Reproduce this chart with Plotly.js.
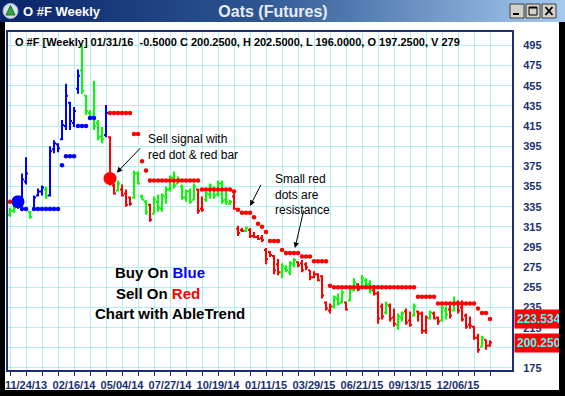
<!DOCTYPE html>
<html><head><meta charset="utf-8">
<script src="https://cdn.plot.ly/plotly-3.0.1.min.js"></script>
<style>
html,body{margin:0;padding:0;background:#fff;width:565px;height:396px;overflow:hidden;}
#bar{position:absolute;left:0;top:0;width:565px;height:22px;background:linear-gradient(to right,#0a246a 0%,#2c5590 45%,#a6caf0 100%);z-index:0}
#chart{position:absolute;left:0;top:0;width:565px;height:396px;z-index:1}
#fl{position:absolute;left:0;top:22px;width:5px;height:374px;background:#000;z-index:2}
#fr{position:absolute;left:559px;top:22px;width:6px;height:374px;background:#000;z-index:2}
#fb{position:absolute;left:0;top:390px;width:565px;height:6px;background:#000;z-index:2}
</style></head><body>
<div id="bar"></div><div id="chart"></div><div id="fl"></div><div id="fr"></div><div id="fb"></div>
<script>
// ---------- data (weekly bars, oldest first; first bar is 4 bars before 11/24/13) ----------
const START_INDEX = -4;
const opens = [
327,331,335,336,360,330,333,346,350,352,
346,392,397,402,415,438,418,452,470,445,
428,425,418,405,406,404,356,351,352,348,
344,344,368,345,340,337,328,340,333,345,
352,364,358,355,344,350,342,352,333,342,
347,353,347,358,342,338,345,313,312,311,
312,306,305,304,292,290,286,278,270,274,
270,278,280,279,278,272,265,268,266,240,
232,236,244,240,240,242,252,258,255,262,
258,252,249,236,230,237,225,218,225,231,
222,227,231,229,212,224,229,225,222,232,
233,232,240,235,227,218,216,205,196,203,
197.25];
const highs = [
334,336,345,368,384,331,346,353,356,355,
395,401,398,421,457,439,434,471,495,446,
431,460,421,414,436,405,358,361,357,352,
345,371,370,347,342,338,345,347,348,355,
366,370,365,357,352,353,358,353,345,350,
358,355,361,361,350,342,348,316,314,315,
314,310,307,307,294,291,287,283,279,277,
281,284,281,282,280,272,271,269,267,241,
239,247,249,252,241,256,264,259,267,264,
262,257,251,239,241,239,234,229,231,234,
231,239,232,231,227,232,231,226,237,236,
237,246,242,242,229,226,217,209,207,203,
202.5];
const lows = [
325,329,333,332,357,323,332,345,346,343,
345,388,389,401,411,411,414,447,447,426,
421,411,401,398,404,356,347,350,345,335,
336,343,357,342,327,320,328,330,330,338,
350,353,358,342,340,338,342,328,330,340,
343,343,345,338,337,337,332,306,310,310,
304,304,302,300,278,285,268,267,264,270,
267,275,275,270,272,262,264,261,244,232,
229,234,237,239,232,241,251,251,254,256,
249,247,219,223,228,221,216,213,221,218,
216,226,221,209,209,223,223,218,221,223,
224,231,229,221,214,214,203,190,196,193,
196];
const closes = [
331,334,343,362,368,325,344,350,354,346,
390,398,393,416,445,420,430,465,450,430,
424,415,404,402,428,360,348,358,346,337,
338,368,358,342,330,322,342,334,346,352,
364,356,362,344,350,340,355,331,332,348,
356,346,358,341,340,340,333,309,311,314,
306,305,303,302,283,287,272,270,276,272,
279,282,277,272,275,265,268,262,247,234,
236,245,239,250,233,253,260,253,264,258,
252,249,224,226,238,224,219,226,229,220,
218,236,229,212,225,230,224,221,235,228,
227,240,232,223,216,217,205,193,205,197,
200.25];
// trend colour of each bar: B = blue (buy), G = green (neutral), R = red (sell)
const barColors = [
'G','G','B','B','B','G','B','B','B','G',
'B','B','B','B','B','B','B','B','G','G',
'G','G','G','G','B','R','R','G','R','R',
'R','G','G','G','G','R','G','G','G','G',
'G','G','G','G','G','G','G','R','R','G',
'G','G','G','G','G','G','R','R','R','G',
'R','R','R','R','R','R','R','R','G','G',
'G','G','R','R','R','R','R','R','R','R',
'R','G','G','G','R','G','G','R','G','G',
'G','R','R','R','G','R','R','G','G','R',
'R','G','R','R','R','G','R','R','G','G',
'R','G','R','R','R','R','R','R','G','R',
'R'];
// small red resistance dots (null = none)
const redStops = [
340,null,null,null,null,null,null,null,null,null,
null,null,null,null,null,null,null,null,null,null,
null,null,null,null,null,428,428,428,428,428,
428,407,407,380,371,361,361,361,361,361,
361,361,361,361,361,361,361,361,352,352,
352,352,352,352,352,352,350,332,329,329,
329,324.5,318,315,310,301,301,301,292,289,
289,289,289,285.5,285.5,285.5,281,281,281,281,
256.5,255,255,255,255,255,255,255,255,255,
255,255,255,255,255,255,255,255,255,255,
255,255,245.7,245.7,245.7,245.7,245.7,239,239,239,
239,239,239,239,239,239,239,234,229.5,229.5,
223.534];
// small blue support dots (null = none)
const blueStops = [
null,null,null,332.6,332.6,null,332.6,332.6,332.6,332.6,
332.6,332.6,332.6,376,385,385,385,415,415,415,
423,423];
// big signal dots
const signalIndex = [-2, 21];
const signalValue = [340, 363];
const signalColor = ['#0000ff', '#ff0000'];
const tickLabels = ['11/24/13','02/16/14','05/04/14','07/27/14','10/19/14','01/11/15','03/29/15','06/21/15','09/13/15','12/06/15'];
const lastStop = 223.534, lastClose = 200.25;

// ---------- helpers ----------
const L=8, R=512, T=32, B=370;
const px = x => (x-L)/(R-L);
const py = y => (B-y)/(B-T);
const NAVY = '#1b2f72';
const FONT = 'Liberation Sans, Arial, sans-serif';
const COLMAP = {B:'#0000ff', G:'#00ff00', R:'#ff0000'};

function ohlcTrace(code){
  const x=[],o=[],h=[],l=[],c=[];
  barColors.forEach((k,j)=>{ if(k===code){x.push(START_INDEX+j);o.push(opens[j]);h.push(highs[j]);l.push(lows[j]);c.push(closes[j]);}});
  const col = COLMAP[code];
  return {type:'ohlc',x:x,open:o,high:h,low:l,close:c,tickwidth:0.5,
    line:{width:2},
    increasing:{line:{color:col,width:2}},decreasing:{line:{color:col,width:2}},
    hoverinfo:'skip',showlegend:false};
}
const traces = [ohlcTrace('B'), ohlcTrace('G'), ohlcTrace('R'),
  {type:'scatter',mode:'markers',x:redStops.map((v,j)=>START_INDEX+j),y:redStops,
   marker:{color:'#ff0000',size:4.5},hoverinfo:'skip',showlegend:false},
  {type:'scatter',mode:'markers',x:blueStops.map((v,j)=>START_INDEX+j),y:blueStops,
   marker:{color:'#0000ff',size:4.5},hoverinfo:'skip',showlegend:false},
  {type:'scatter',mode:'markers',x:signalIndex,y:signalValue,
   marker:{color:signalColor,size:13},hoverinfo:'skip',showlegend:false}
];

const lastIndex = START_INDEX + opens.length - 1;
const tickvals=[], ticktext=[];
for(let i=START_INDEX;i<=lastIndex;i+=4){ tickvals.push(i); ticktext.push(i>=0 && i%12===0 && tickLabels[i/12] ? tickLabels[i/12] : ''); }
const yt=[]; for(let v=175; v<=495; v+=20) yt.push(v);

function ann(text,x,y,opt){ return Object.assign({text:text,xref:'paper',yref:'paper',x:px(x),y:py(y),showarrow:false,
  xanchor:'left',yanchor:'middle',font:{family:FONT,size:12,color:'#000'}},opt||{}); }
function arrow(hx,hy,tx,ty){ return {text:'',xref:'paper',yref:'paper',x:px(hx),y:py(hy),ax:tx-hx,ay:ty-hy,
  showarrow:true,arrowhead:2,arrowsize:1.1,arrowwidth:1,arrowcolor:'#000',standoff:0}; }

const annotations = [
  ann('O #F [Weekly] 01/31/16 \u00a0-0.5000 C 200.2500, H 202.5000, L 196.0000, O 197.2500, V 279',13,42,{font:{family:FONT,size:11,color:'#000',weight:'bold'}}),
  ann('Sell signal with<br>red dot &amp; red bar',146,147,{align:'left'}),
  ann('Small red<br>dots are<br>resistance',273,194,{align:'left'}),
  ann('Buy On <span style="color:#0000ff">Blue</span>',160,272,{xanchor:'center',font:{family:FONT,size:15,color:'#000',weight:'bold'}}),
  ann('Sell On <span style="color:#ff0000">Red</span>',158,293,{xanchor:'center',font:{family:FONT,size:15,color:'#000',weight:'bold'}}),
  ann('Chart with AbleTrend',170,313,{xanchor:'center',font:{family:FONT,size:15,color:'#000',weight:'bold'}}),
  arrow(116.7,172.7,141.7,146.7),
  arrow(250,206,261.7,183.3),
  arrow(295,248,304,209),
  {text:'223.5340',xref:'paper',yref:'y',x:1,y:lastStop,xanchor:'left',yanchor:'middle',xshift:2,showarrow:false,
   bgcolor:'#ff0000',borderpad:2,font:{family:FONT,size:12,color:'#40ffff',weight:'bold'}},
  {text:'200.2500',xref:'paper',yref:'y',x:1,y:lastClose,xanchor:'left',yanchor:'middle',xshift:2,showarrow:false,
   bgcolor:'#ff0000',borderpad:2,font:{family:FONT,size:12,color:'#40ffff',weight:'bold'}},
  ann('O #F Weekly',21,11,{font:{family:FONT,size:13,color:'#ffffff',weight:'bold'}})
];

function rectPx(x0,y0,x1,y1,fill,line){ return {type:'rect',xref:'paper',yref:'paper',x0:px(x0),x1:px(x1),y0:py(y1),y1:py(y0),
  fillcolor:fill,line:{color:line||fill,width:line?1:0},layer:'above'}; }
function linePx(x0,y0,x1,y1,w){ return {type:'line',xref:'paper',yref:'paper',x0:px(x0),x1:px(x1),y0:py(y0),y1:py(y1),line:{color:'#000',width:w}}; }
const shapes = [
  // window icon
  {type:'circle',xref:'paper',yref:'paper',x0:px(3),x1:px(18),y0:py(18.5),y1:py(3.5),fillcolor:'#d8e2ee',line:{color:'#9fb4cc',width:1}},
  {type:'path',xref:'paper',yref:'paper',path:'M '+px(10.5)+' '+py(5.5)+' L '+px(15)+' '+py(15)+' L '+px(6)+' '+py(15)+' Z',fillcolor:'#2fa83a',line:{color:'#1c6f24',width:1}},
  // window buttons
  rectPx(510,4,524,18,'#d4d0c8','#404040'),
  rectPx(526,4,540,18,'#d4d0c8','#404040'),
  rectPx(542,4,556,18,'#d4d0c8','#404040'),
  rectPx(513,13,519,15,'#000'),
  rectPx(529,7,537,15,'rgba(0,0,0,0)','#000'),
  rectPx(529,7,537,8.5,'#000'),
  linePx(545.5,7,552.5,15,1.8),
  linePx(552.5,7,545.5,15,1.8)
];

const layout = {
  width:565,height:396,margin:{l:L,r:565-R,t:T,b:396-B,pad:0},
  paper_bgcolor:'rgba(0,0,0,0)',plot_bgcolor:'#ffffff',showlegend:false,hovermode:false,
  title:{text:'Oats (Futures)',xref:'container',yref:'container',x:273/565,y:1-11/396,xanchor:'center',yanchor:'middle',
    font:{family:FONT,size:16,color:'#e6ecf6',weight:'bold'}},
  xaxis:{range:[START_INDEX-0.5,121.5],tickmode:'array',tickvals:tickvals,ticktext:ticktext,ticks:'outside',ticklen:4,tickwidth:1,tickcolor:NAVY,
    showgrid:true,gridcolor:'#b4f0f0',gridwidth:1,showline:true,linecolor:NAVY,linewidth:2,mirror:true,zeroline:false,
    rangeslider:{visible:false},fixedrange:true,tickfont:{family:FONT,size:11,color:NAVY,weight:'bold'}},
  yaxis:{range:[173.0,508.3],side:'right',tickmode:'array',tickvals:yt,ticks:'',ticklabelstandoff:7,
    showgrid:true,gridcolor:'#b4f0f0',gridwidth:1,showline:true,linecolor:NAVY,linewidth:2,mirror:true,zeroline:false,
    fixedrange:true,tickfont:{family:FONT,size:11,color:NAVY,weight:'bold'}},
  annotations:annotations,shapes:shapes
};
Plotly.newPlot('chart',traces,layout,{displayModeBar:false,staticPlot:true});
</script></body></html>
